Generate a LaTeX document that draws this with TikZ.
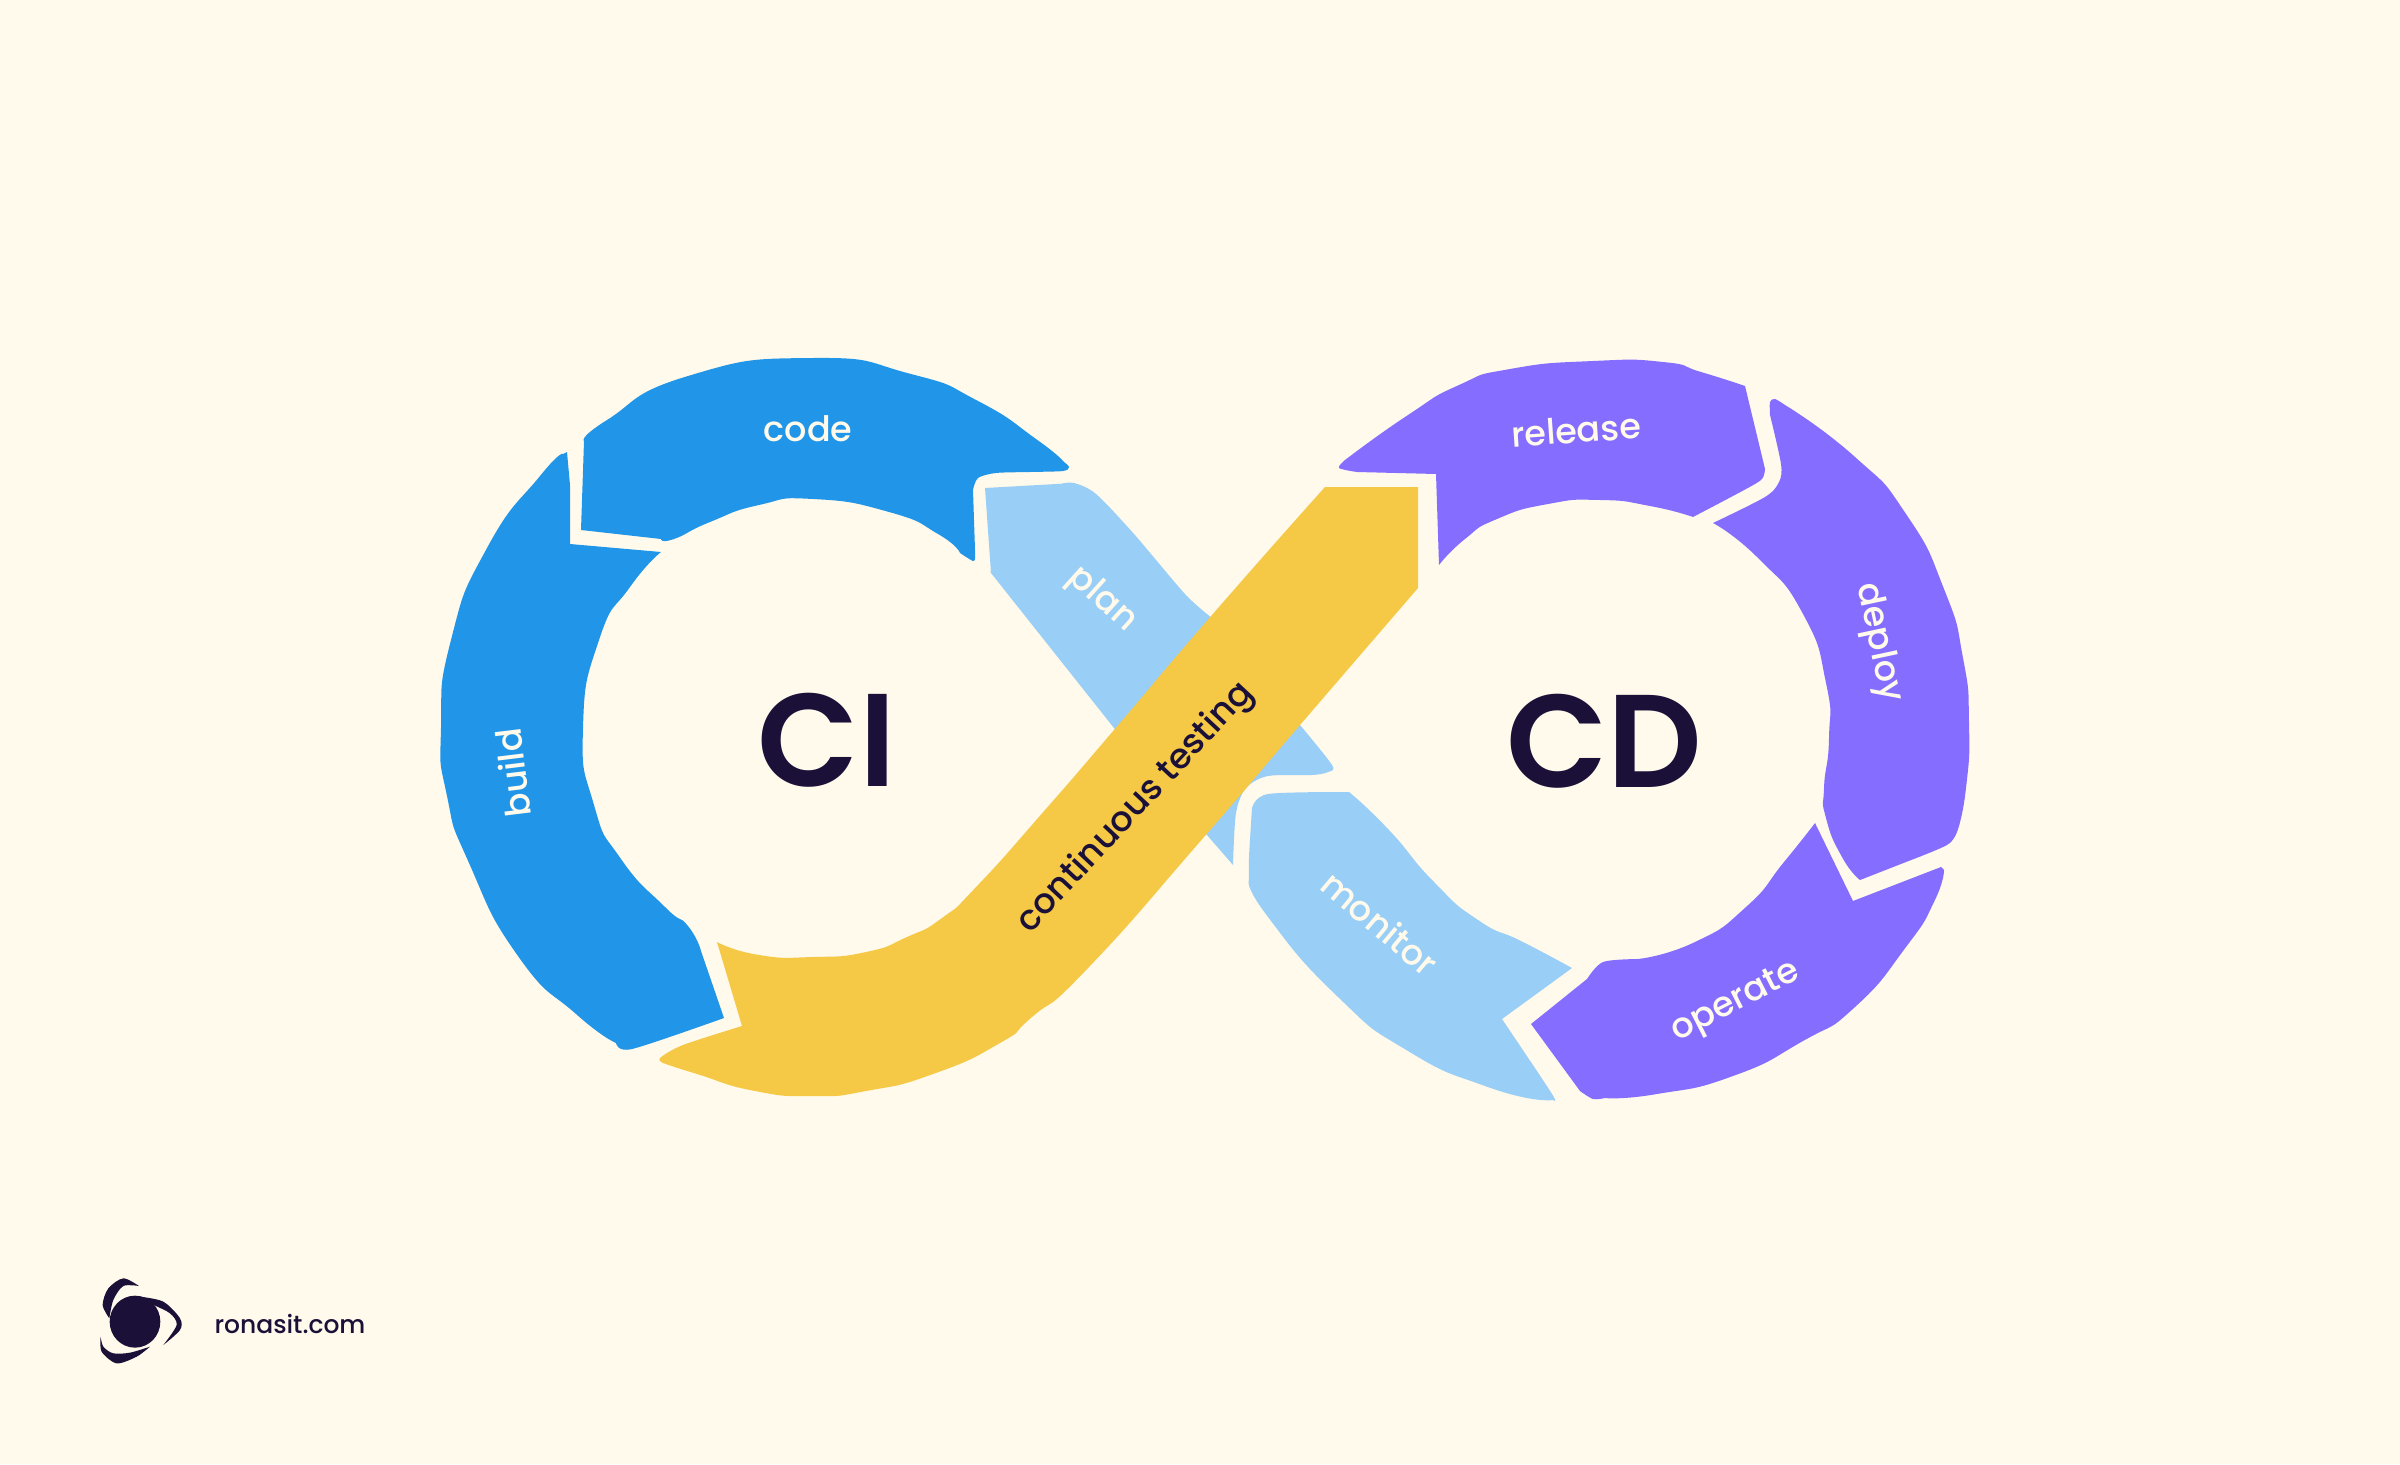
\documentclass[tikz,border=0pt]{standalone}
\usepackage{fontspec}
\setmainfont{Poppins}
\newfontfamily\stepfont{Poppins Medium}
\newfontfamily\bigfont{Poppins SemiBold}
\usepackage{xcolor}
\definecolor{paper}{RGB}{255,250,235}
\definecolor{cicode}{RGB}{33,150,232}
\definecolor{skyband}{RGB}{153,206,246}
\definecolor{testgold}{RGB}{245,200,70}
\definecolor{cdviolet}{RGB}{133,110,255}
\definecolor{inkdark}{RGB}{26,16,56}
\tikzset{
  softline/.style={smooth, tension=1},
  steplabel/.style={text=paper, inner sep=0pt, font=\stepfont\fontsize{35}{40}\selectfont},
  biglabel/.style={text=inkdark, inner sep=0pt, font=\bigfont\fontsize{132}{150}\selectfont},
}

\begin{document}
\begin{tikzpicture}[x=1pt, y=-1pt]
  \useasboundingbox (0,0) rectangle (2400,1464);
  \fill[paper] (0,0) rectangle (2400,1464);

  % LEFT LOOP: code and build
  \fill[cicode] plot[softline] coordinates {(584,441) (607,420) (688,376) (813,358) (911,374) (978,401)
      (1036,439) (1064,462)}
    -- plot[smooth] coordinates {(1064,462) (1069,467) (1063,471) (1030,472) (996,473) (978,478) (973,490)}
    -- plot[smooth] coordinates {(975,550) (975,558) (973,561) (960,553)}
    -- plot[softline] coordinates {(960,553) (938,534) (889,512) (813,499) (759,505) (710,522) (674,539) (661,539)}
    -- (581,530) -- cycle;
  \fill[cicode] (570,544) -- (661,552)
    -- plot[softline] coordinates {(661,552) (630,587) (599,640) (583,728) (594,805) (621,859) (665,907)
      (688,926) (701,951)}
    -- (724,1018) -- plot[smooth] coordinates {(724,1018) (632,1049) (616,1043)}
    -- plot[softline] coordinates {(616,1043) (576,1014) (518,956) (469,863)
      (447,796) (441,728) (451,640) (487,548) (540,476) (563,454)}
    -- (567,452) -- (570,485) -- cycle;

  % plan goes under the yellow band
  \fill[skyband] (985,488) -- (1074,483)
    -- plot[smooth] coordinates {(1060,484) (1074,483) (1096,494) (1134,534) (1185,594) (1212,618)}
    -- (1300,725) -- plot[smooth] coordinates {(1300,725) (1332,765) (1328,772) (1312,775) (1268,776) (1246,788)
      (1236,813) (1233,865)}
    -- (1114,728) -- plot[softline] coordinates {(1114,728) (1014,602) (991,573)} -- cycle;

  % yellow band
  \fill[testgold] (717,942)
    -- plot[softline] coordinates {(717,942) (759,955) (813,957) (866,952) (907,937)
      (942,918) (978,885) (1045,810) (1114,730) (1212,615) (1325,487)}
    -- (1418,487) -- (1418,588)
    -- plot[softline] coordinates {(1418,588) (1300,725) (1204,837) (1089,967) (1032,1017) (1000,1043) (933,1074)
      (866,1091) (813,1096) (755,1091) (697,1074) (663,1063)}
    -- plot[smooth] coordinates {(663,1063) (660,1058) (683,1045) (742,1026)} -- cycle;

  % monitor
  \fill[skyband] plot[smooth] coordinates {(1252,808) (1268,794) (1349,792)}
    -- plot[softline] coordinates {(1349,792) (1389,830) (1434,882) (1478,920) (1523,942) (1572,968)}
    -- (1502,1019) -- plot[smooth] coordinates {(1502,1019) (1552,1094) (1552,1100) (1542,1100)}
    -- plot[softline] coordinates {(1542,1100) (1485,1086) (1408,1051) (1338,997) (1268,917) (1249,880)}
    -- plot[smooth] coordinates {(1249,880) (1249,857) (1252,808)} -- cycle;

  % RIGHT LOOP: release, deploy, operate
  \fill[cdviolet] (1436,474) -- (1357,472) -- plot[smooth] coordinates {(1357,472) (1339,468) (1345,460)}
    -- plot[softline] coordinates {(1345,460) (1408,415) (1459,385) (1510,369)
      (1593,361) (1663,362) (1701,372) (1745,386)}
    -- (1765,469) -- plot[smooth] coordinates {(1765,469) (1762,479) (1746,489) (1693,517)}
    -- plot[softline] coordinates {(1693,517) (1650,506) (1600,500)
      (1548,504) (1497,519) (1465,539) (1439,565)} -- cycle;
  \fill[cdviolet] plot[smooth] coordinates {(1770,415) (1770,402) (1775,399) (1785,405)}
    -- plot[softline] coordinates {(1785,405) (1855,457) (1906,514)
      (1944,589) (1963,658) (1969,723) (1966,788) (1957,832)}
    -- plot[smooth] coordinates {(1957,832) (1947,845) (1906,862)}
    -- (1860,880) -- plot[softline] coordinates {(1860,880) (1842,857)
      (1826,818) (1824,788) (1829,738) (1826,683) (1803,614) (1759,559) (1713,523)}
    -- plot[smooth] coordinates {(1713,523) (1765,497) (1779,482) (1781,464) (1770,415)} -- cycle;
  \fill[cdviolet] (1815,823) -- (1853,901) -- (1941,867) -- (1944,870)
    -- plot[softline] coordinates {(1944,870) (1934,902) (1906,947) (1855,1007) (1803,1041)
      (1733,1076) (1657,1094) (1605,1098)}
    -- plot[smooth] coordinates {(1605,1098) (1593,1099) (1580,1091)} -- (1531,1024) -- (1587,979)
    -- plot[smooth] coordinates {(1587,979) (1603,962) (1638,959)}
    -- plot[softline] coordinates {(1638,959) (1695,942) (1746,907) (1784,862) (1815,823)} -- cycle;

  % labels
  \foreach \lname/\x/\y/\r/\t in {%
    code/808/429/0/code,   build/513/773/97/build,  plan/1102/600/-42/plan,
    monitor/1380/923/-40/monitor, release/1576/430/4/release,
    deploy/1878/643/-78/deploy,   operate/1736/1003/27/operate}
    \node[steplabel, rotate=\r] (\lname) at (\x,\y) {\t};
  \node[inner sep=0pt, text=inkdark, rotate=47, font=\stepfont\fontsize{35}{40}\selectfont] (testing) at (1136,808) {continuous testing};
  \node[biglabel] (ci) at (827,740) {CI};
  \node[biglabel] (cd) at (1604,741) {CD};

  % logo
  \begin{scope}[shift={(80,1250)}, x=0.3333pt, y=-0.3333pt]
    \fill[inkdark] (165,215) ellipse [x radius=76, y radius=78];
    \fill[inkdark] plot[smooth] coordinates {(177,108) (130,85) (85,115) (68,165) (88,205)}
      -- plot[smooth] coordinates {(88,205) (100,150) (130,108) (177,108)} -- cycle;
    \fill[inkdark] plot[smooth] coordinates {(180,140) (250,155) (300,205) (300,240) (250,285)}
      -- plot[smooth] coordinates {(250,285) (290,225) (270,190) (222,165) (180,140)} -- cycle;
    \fill[inkdark] plot[smooth] coordinates {(62,260) (65,305) (110,340) (170,320) (210,290)}
      -- plot[smooth] coordinates {(210,290) (150,308) (100,310) (70,290) (62,260)} -- cycle;
  \end{scope}
  \node[inner sep=0pt, text=inkdark, font=\stepfont\fontsize{25}{30}\selectfont] (site) at (290,1324) {ronasit.com};
\end{tikzpicture}
\end{document}
